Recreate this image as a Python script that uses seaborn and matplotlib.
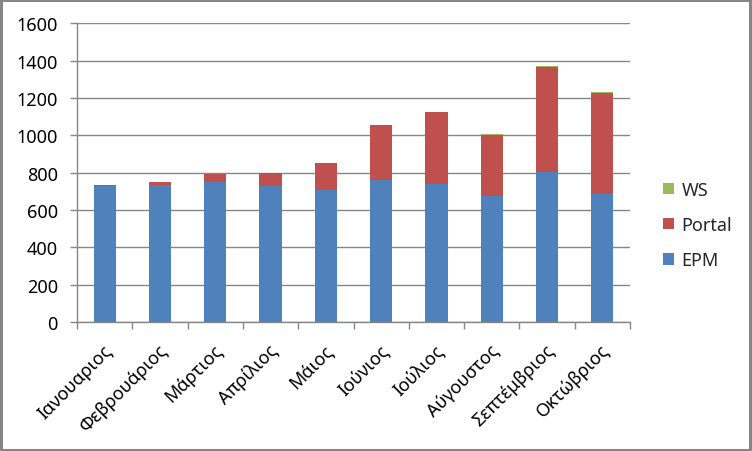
import matplotlib
matplotlib.use("Agg")
import matplotlib.pyplot as plt
import matplotlib.transforms as mtransforms
from matplotlib.patches import Patch, Rectangle
import seaborn as sns
import pandas as pd
import numpy as np

months = ["Ιανουαριος", "Φεβρουάριος", "Μάρτιος", "Απρίλιος", "Μάιος",
          "Ιούνιος", "Ιούλιος", "Αύγουστος", "Σεπτέμβριος", "Οκτώβριος"]
epm = [728, 736, 750, 728, 707, 760, 739, 675, 803, 686]
portal = [6, 14, 43, 72, 145, 294, 385, 327, 563, 540]
ws = [0, 0, 0, 0, 0, 0, 0, 5, 5, 5]
yticks = [0, 200, 400, 600, 800, 1000, 1200, 1400, 1600]

c_epm = "#4F81BD"
c_portal = "#C0504D"
c_ws = "#9BBB59"
grey = "#868686"

sns.set_theme(style="white")
plt.rcParams['font.family'] = ['Noto Sans', 'DejaVu Sans']
FS = 13

df = pd.DataFrame({"month": months, "EPM": epm, "Portal": portal, "WS": ws})
df["lvl2"] = df["EPM"] + df["Portal"]
df["lvl3"] = df["lvl2"] + df["WS"]

fig = plt.figure(figsize=(7.52, 4.52), dpi=100)
ax = fig.add_axes([77 / 752, 1 - 323 / 452, (630 - 77) / 752, (323 - 24.3) / 452])

for col, colr in [("lvl3", c_ws), ("lvl2", c_portal), ("EPM", c_epm)]:
    sns.barplot(data=df, x="month", y=col, color=colr, width=0.4,
                saturation=1, ax=ax, linewidth=0, zorder=3)

ax.set_xlim(-0.5, len(months) - 0.5)
ax.set_ylim(0, 1600)
ax.set_yticks(yticks)
ax.set_yticklabels([str(v) for v in yticks], fontsize=FS, color="black")
ax.set_xlabel("")
ax.set_ylabel("")
ax.grid(axis="y", color=grey, linewidth=1, zorder=0)
ax.set_axisbelow(True)
for s in ["top", "right"]:
    ax.spines[s].set_visible(False)
for s in ["left", "bottom"]:
    ax.spines[s].set_color(grey)
    ax.spines[s].set_linewidth(1)
    ax.spines[s].set_zorder(4)

ax.tick_params(axis="y", which="major", direction="out", length=5.3, width=1,
               color=grey, left=True, pad=8.5)
ax.set_xticks(np.arange(len(months)))
ax.set_xticks(np.arange(-0.5, len(months), 1.0), minor=True)
ax.tick_params(axis="x", which="major", length=0, pad=13.5)
ax.tick_params(axis="x", which="minor", direction="out", length=5.3, width=1,
               color=grey, bottom=True)
offset = mtransforms.ScaledTranslation(-2 / 100, 0, fig.dpi_scale_trans)
ax.set_xticklabels(months, fontsize=FS, rotation=45, ha="right", va="top",
                   rotation_mode="anchor", color="black")
for lbl in ax.get_xticklabels():
    lbl.set_transform(lbl.get_transform() + offset)

handles = [Patch(facecolor=c_ws, edgecolor="none"),
           Patch(facecolor=c_portal, edgecolor="none"),
           Patch(facecolor=c_epm, edgecolor="none")]
fig.legend(handles, ["WS", "Portal", "EPM"], loc="center left",
           bbox_to_anchor=(663 / 752, 1 - 226 / 452), frameon=False,
           fontsize=FS, handlelength=0.62, handleheight=0.62,
           handletextpad=0.4, labelspacing=0.95, borderpad=0, borderaxespad=0)

fig.patches.append(Rectangle((0.001, 0.002), 0.997, 0.996, transform=fig.transFigure,
                             fill=False, edgecolor=grey, linewidth=2.2))

fig.savefig("out.png", dpi=100)
